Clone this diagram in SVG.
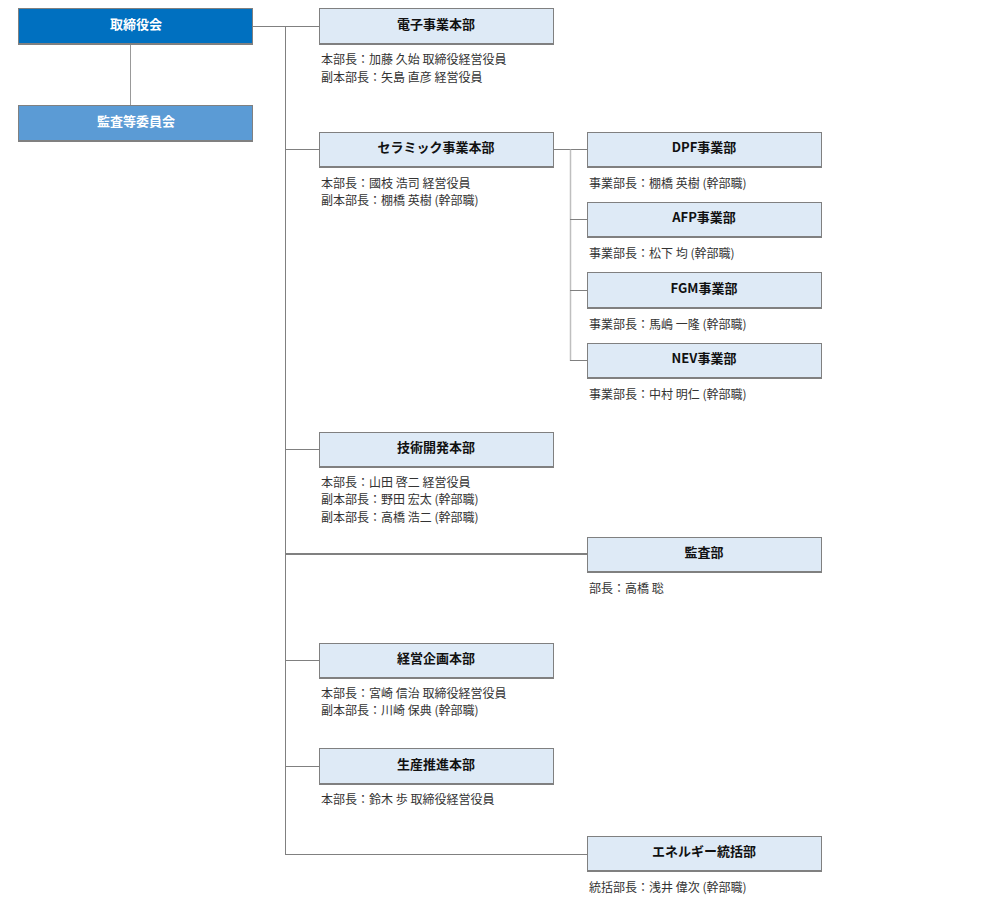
<svg xmlns="http://www.w3.org/2000/svg" width="1000" height="900" viewBox="0 0 1000 900">
<style>
.box{fill:#deeaf6;stroke:#808080;stroke-width:1}
.sh{stroke:#808080;stroke-width:2}
.t{font-family:"Noto Sans CJK JP","Noto Sans",sans-serif;font-size:13px;font-weight:bold;fill:#111;text-anchor:middle}
.tw{font-family:"Noto Sans CJK JP","Noto Sans",sans-serif;font-size:13px;font-weight:bold;fill:#fff;text-anchor:middle}
.d{font-family:"Noto Sans CJK JP","Noto Sans",sans-serif;font-size:12px;fill:#333}
.c{fill:none;stroke:#808080;stroke-width:1}
.c2{fill:none;stroke:#808080;stroke-width:2}
.cl{fill:none;stroke:#bfbfbf;stroke-width:1.5}
</style>
<rect width="1000" height="900" fill="#fff"/>
<g id="connectors">
<line class="c" x1="130.5" y1="44" x2="130.5" y2="105" style="stroke:#999"/>
<line class="c" x1="253" y1="26.5" x2="319" y2="26.5"/>
<line class="c" x1="285.5" y1="26" x2="285.5" y2="854.5"/>
<line class="c" x1="285" y1="149.5" x2="319" y2="149.5"/>
<line class="c" x1="285" y1="449.5" x2="319" y2="449.5"/>
<line class="c2" x1="285" y1="554" x2="587" y2="554"/>
<line class="c" x1="285" y1="660.5" x2="319" y2="660.5"/>
<line class="c" x1="285" y1="766.5" x2="319" y2="766.5"/>
<line class="c" x1="285" y1="854.5" x2="587" y2="854.5"/>
<line class="c" x1="553" y1="149.5" x2="587" y2="149.5"/>
<line class="cl" x1="570.5" y1="149.5" x2="570.5" y2="361"/>
<line class="c" x1="570" y1="219.5" x2="587" y2="219.5"/>
<line class="c" x1="570" y1="290.5" x2="587" y2="290.5"/>
<line class="c" x1="570" y1="360.5" x2="587" y2="360.5"/>
</g>
<g id="board">
<rect x="18.5" y="8.5" width="234" height="35" fill="#0070c0" stroke="#808080"/>
<line class="sh" x1="18" y1="44" x2="253" y2="44"/>
<text class="tw" x="136" y="29">取締役会</text>
</g>
<g id="audit-committee">
<rect x="18.5" y="105.5" width="234" height="35" fill="#5b9bd5" stroke="#808080"/>
<line class="sh" x1="18" y1="141" x2="253" y2="141"/>
<text class="tw" x="136" y="126">監査等委員会</text>
</g>
<g id="denshi">
<rect class="box" x="319.5" y="8.5" width="234" height="35"/>
<line class="sh" x1="319" y1="44" x2="554" y2="44"/>
<text class="t" x="436" y="29">電子事業本部</text>
<text class="d" x="321" y="64">本部長：加藤 久始 取締役経営役員</text>
<text class="d" x="321" y="81.5">副本部長：矢島 直彦 経営役員</text>
</g>
<g id="ceramic">
<rect class="box" x="319.5" y="132.5" width="234" height="34"/>
<line class="sh" x1="319" y1="167" x2="554" y2="167"/>
<text class="t" x="436" y="152">セラミック事業本部</text>
<text class="d" x="321" y="187.5">本部長：國枝 浩司 経営役員</text>
<text class="d" x="321" y="205">副本部長：棚橋 英樹 (幹部職)</text>
</g>
<g id="dpf">
<rect class="box" x="587.5" y="132.5" width="234" height="34"/>
<line class="sh" x1="587" y1="167" x2="822" y2="167"/>
<text class="t" x="704" y="152">DPF事業部</text>
<text class="d" x="589" y="188">事業部長：棚橋 英樹 (幹部職)</text>
</g>
<g id="afp">
<rect class="box" x="587.5" y="202.5" width="234" height="34"/>
<line class="sh" x1="587" y1="237" x2="822" y2="237"/>
<text class="t" x="704" y="222">AFP事業部</text>
<text class="d" x="589" y="258">事業部長：松下 均 (幹部職)</text>
</g>
<g id="fgm">
<rect class="box" x="587.5" y="272.5" width="234" height="35"/>
<line class="sh" x1="587" y1="308" x2="822" y2="308"/>
<text class="t" x="704" y="293">FGM事業部</text>
<text class="d" x="589" y="328.5">事業部長：馬嶋 一隆 (幹部職)</text>
</g>
<g id="nev">
<rect class="box" x="587.5" y="343.5" width="234" height="34"/>
<line class="sh" x1="587" y1="378" x2="822" y2="378"/>
<text class="t" x="704" y="363">NEV事業部</text>
<text class="d" x="589" y="398.5">事業部長：中村 明仁 (幹部職)</text>
</g>
<g id="gijutsu">
<rect class="box" x="319.5" y="432.5" width="234" height="34"/>
<line class="sh" x1="319" y1="467" x2="554" y2="467"/>
<text class="t" x="436" y="452">技術開発本部</text>
<text class="d" x="321" y="486.5">本部長：山田 啓二 経営役員</text>
<text class="d" x="321" y="504">副本部長：野田 宏太 (幹部職)</text>
<text class="d" x="321" y="521.5">副本部長：高橋 浩二 (幹部職)</text>
</g>
<g id="kansa">
<rect class="box" x="587.5" y="537.5" width="234" height="34"/>
<line class="sh" x1="587" y1="572" x2="822" y2="572"/>
<text class="t" x="704" y="557">監査部</text>
<text class="d" x="589" y="592.5">部長：高橋 聡</text>
</g>
<g id="keiei">
<rect class="box" x="319.5" y="643.5" width="234" height="34"/>
<line class="sh" x1="319" y1="678" x2="554" y2="678"/>
<text class="t" x="436" y="663">経営企画本部</text>
<text class="d" x="321" y="697.5">本部長：宮崎 信治 取締役経営役員</text>
<text class="d" x="321" y="715">副本部長：川崎 保典 (幹部職)</text>
</g>
<g id="seisan">
<rect class="box" x="319.5" y="748.5" width="234" height="35"/>
<line class="sh" x1="319" y1="784" x2="554" y2="784"/>
<text class="t" x="436" y="769">生産推進本部</text>
<text class="d" x="321" y="803.5">本部長：鈴木 歩 取締役経営役員</text>
</g>
<g id="energy">
<rect class="box" x="587.5" y="836.5" width="234" height="34"/>
<line class="sh" x1="587" y1="871" x2="822" y2="871"/>
<text class="t" x="704" y="856">エネルギー統括部</text>
<text class="d" x="589" y="891.5">統括部長：浅井 偉次 (幹部職)</text>
</g>
</svg>
